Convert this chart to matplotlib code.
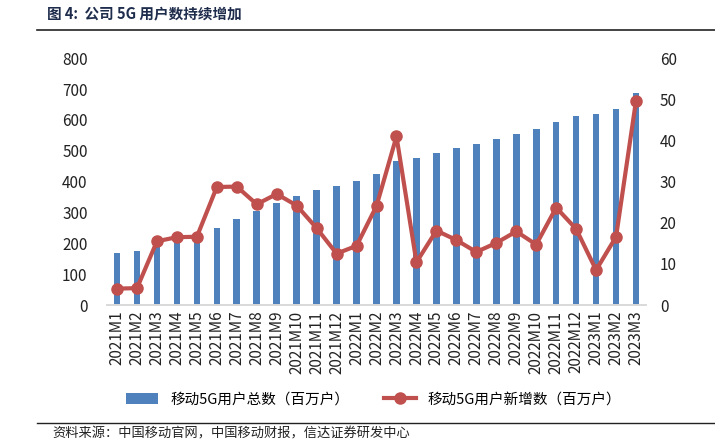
import matplotlib
matplotlib.use("Agg")
import matplotlib.pyplot as plt
import numpy as np

plt.rcParams['font.family'] = ['Noto Sans CJK SC', 'DejaVu Sans']

months = ['2021M1', '2021M2', '2021M3', '2021M4', '2021M5', '2021M6', '2021M7',
          '2021M8', '2021M9', '2021M10', '2021M11', '2021M12', '2022M1', '2022M2',
          '2022M3', '2022M4', '2022M5', '2022M6', '2022M7', '2022M8', '2022M9',
          '2022M10', '2022M11', '2022M12', '2023M1', '2023M2', '2023M3']
total_users = [170, 174, 189, 206, 220, 250, 280, 304, 332, 354, 373, 387, 401, 425,
               466, 476, 494, 510, 522, 538, 555, 570, 594, 612, 621, 637, 688]
new_users = [4.0, 4.1, 15.5, 16.5, 16.6, 28.7, 28.8, 24.5, 27.0, 24.2, 18.7, 12.5, 14.4,
             24.1, 41.0, 10.4, 18.1, 15.8, 12.9, 15.1, 17.9, 14.7, 23.7, 18.5, 8.5, 16.6, 49.7]

bar_label = '移动5G用户总数（百万户）'
line_label = '移动5G用户新增数（百万户）'

fig = plt.figure(figsize=(7.15, 4.44), dpi=100)
ax = fig.add_axes([0.1497, 0.313, 0.7538, 0.5557])
ax2 = ax.twinx()

x = np.arange(len(months))
bars = ax.bar(x, total_users, width=0.33, color='#4F81BD', label=bar_label, zorder=2)
line, = ax2.plot(x, new_users, color='#C0504D', lw=3, marker='o', ms=8,
                 label=line_label, zorder=3)

ax.set_xlim(-0.5, len(months) - 0.5)
ax.set_ylim(0, 800)
ax.set_yticks(range(0, 801, 100))
ax2.set_ylim(0, 60)
ax2.set_yticks(range(0, 61, 10))

ax.set_xticks(x)
ax.set_xticklabels(months, rotation=90, fontsize=11, color='#222222')
ax.tick_params(axis='y', length=0, labelsize=11, labelcolor='#222222', pad=14)
ax2.tick_params(axis='y', length=0, labelsize=11, labelcolor='#222222', pad=10)
ax.tick_params(axis='x', length=0, pad=4)

for a in (ax, ax2):
    for s in ('top', 'left', 'right'):
        a.spines[s].set_visible(False)
    a.spines['bottom'].set_color('#D9D9D9')
    a.spines['bottom'].set_linewidth(1.2)

fig.legend([bars, line], [bar_label, line_label], loc='center', ncol=2,
           bbox_to_anchor=(0.523, 0.1), frameon=False, fontsize=10.5,
           handlelength=2.2, columnspacing=2.4)

fig.text(0.066, 0.97, '图 4:  公司 5G 用户数持续增加', fontsize=10.5, fontweight='bold',
         color='#1F2D4D', va='center')
fig.add_artist(plt.Line2D([0.052, 1.0], [0.932, 0.932], color='#222222', lw=1.2))
fig.add_artist(plt.Line2D([0.052, 1.0], [0.047, 0.047], color='#222222', lw=1.0))
fig.text(0.073, 0.022, '资料来源：中国移动官网，中国移动财报，信达证券研发中心', fontsize=9.5,
         style='italic', color='#222222', va='center')

fig.savefig('out.png', dpi=100)
